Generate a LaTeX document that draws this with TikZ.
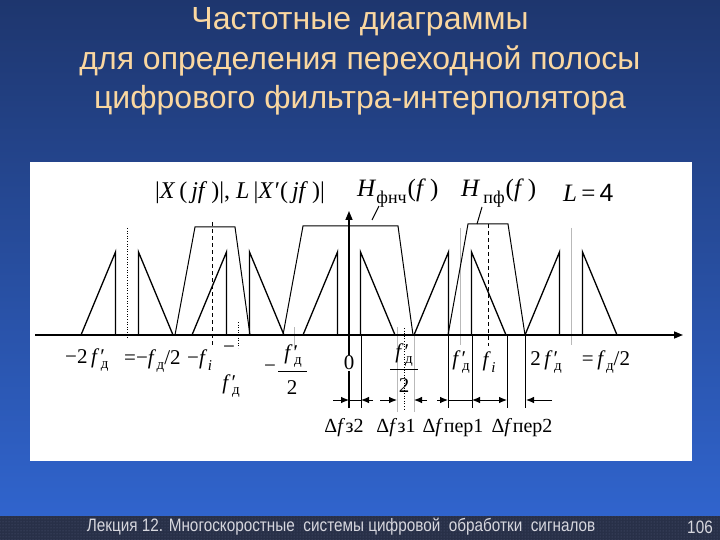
\documentclass[tikz,border=0pt]{standalone}
\usepackage{fontspec}
\setmainfont{Liberation Serif}
\newfontfamily\titlefont{Liberation Sans}
\newfontfamily\footfont[FakeStretch=0.85]{Liberation Sans}
\usetikzlibrary{arrows.meta,patterns}
\definecolor{bgtop}{RGB}{30,54,110}
\definecolor{bgbot}{RGB}{48,100,205}
\definecolor{titlec}{RGB}{250,215,160}
\definecolor{footbg}{RGB}{40,48,72}
\definecolor{footdot}{RGB}{80,90,120}
\definecolor{footc}{RGB}{215,215,222}
\definecolor{lgray}{RGB}{185,185,185}
\newcommand\sbx[1]{\raisebox{-0.28em}{\fontsize{15}{15}\selectfont #1}}
\newcommand\sbt[1]{\raisebox{-0.3em}{\fontsize{18}{18}\selectfont #1}}
\newcommand\fdp{\textit{f}\kern1pt\rlap{′}\kern0.5pt\sbx{д}}
\newcommand\fdd{\textit{f}\kern0.5pt\sbx{д}}
\newcommand\fii{\textit{f}\kern0.5pt\sbx{\textit{i}}}
\tikzset{
  title/.style={font=\titlefont\fontsize{32}{32}\selectfont, text=titlec, inner sep=0pt},
  lab/.style={font=\fontsize{21}{22}\selectfont, inner sep=0pt},
  tlab/.style={font=\fontsize{25}{26}\selectfont, inner sep=0pt},
  dlab/.style={font=\fontsize{20}{21}\selectfont, inner sep=0pt},
  spec/.style={line width=1.3pt, line join=miter},
  filt/.style={line width=1pt},
  axisl/.style={line width=1.5pt, -{Triangle[length=9pt,width=7pt]}},
  grayl/.style={draw=lgray, line width=0.9pt},
  dotl/.style={line width=0.8pt, dash pattern=on 1pt off 1.6pt},
  dashl/.style={line width=1pt, dash pattern=on 4pt off 3pt},
  thinl/.style={line width=0.8pt},
  arr/.style={line width=0.9pt, -{Latex[length=8pt,width=6.5pt]}}
}
\begin{document}
\begin{tikzpicture}[x=1pt,y=-1pt]
\useasboundingbox (0,0) rectangle (720,540);
% background
\shade[top color=bgtop, bottom color=bgbot] (0,0) rectangle (720,516);
\fill[footbg] (0,516) rectangle (720,540);
\fill[pattern=dots, pattern color=footdot] (0,516) rectangle (720,540);
\fill[white] (30,162) rectangle (692,461);
% title
\node[title] (t1) at (360,22) {Частотные диаграммы};
\node[title] (t2) at (360,61) {для определения переходной полосы};
\node[title] (t3) at (360,100) {цифрового фильтра-интерполятора};
% footer
\node[font=\footfont\fontsize{18}{18}\selectfont, text=footc, inner sep=0pt] (ft) at (341,527) {Лекция 12. Многоскоростные \ системы цифровой \ обработки \ сигналов};
\node[font=\footfont\fontsize{18}{18}\selectfont, text=footc, inner sep=0pt] (pg) at (700,527) {106};

% marker lines
\draw[dotl] (127,228) -- (127,338);
\draw[dotl] (238,322) -- (238,348);
\draw[dotl] (404,328) -- (404,410);
\draw[dashl] (212,222) -- (212,346);
\draw[dashl] (488,224) -- (488,346);
\draw[grayl] (294,327) -- (294,348);
\draw[grayl] (397,327) -- (397,412);
\draw[grayl] (414,335) -- (414,412);
\draw[grayl] (460,228) -- (460,345);
\draw[grayl] (571,228) -- (571,345);
\draw[thinl] (361,335) -- (361,408);
\draw[thinl] (448,335) -- (448,408);
\draw[thinl] (472,335) -- (472,408);
\draw[thinl] (507,335) -- (507,408);
\draw[thinl] (525,335) -- (525,408);

% spectra
\foreach \c in {127,238,349,460,571}{
  \draw[spec] (\c-46,335) -- (\c-11.5,252) -- (\c-11.5,335);
  \draw[spec] (\c+11.5,335) -- (\c+11.5,252) -- (\c+46,335);
}
% filters
\draw[filt] (283,335) -- (303,226) -- (398,226) -- (413,335);
\draw[filt] (175,335) -- (195,227) -- (235,227) -- (250,335);
\draw[filt] (448,335) -- (468,224) -- (508,224) -- (525,335);
\draw[filt] (379,206) -- (372,220);
\draw[filt] (482,207) -- (477,224);

% axes
\coordinate (xl) at (35,335);
\coordinate (xr) at (683,335);
\draw[axisl] (xl) -- (xr);
\coordinate (yb) at (349,408);
\coordinate (yt) at (349,211);
\draw[axisl] (yb) -- (yt);

% top labels
\node[tlab, font=\fontsize{24}{25}\selectfont] (lx) at (240,193) {|\textit{X}\,(\,\textit{jf}\,)|, \textit{L}\,|\textit{X}\kern1pt′(\,\textit{jf}\,)|};
\node[tlab, anchor=west] (lh1) at (357,193) {\textit{H}\sbt{фнч}\kern1pt(\textit{f}\,)};
\node[tlab, anchor=west] (lh2) at (461,193) {\textit{H}\sbt{\,пф}\kern1pt(\textit{f}\,)};
\node[tlab, anchor=west] (ll) at (563,193) {\textit{L}\,=\,{\titlefont 4}};

% axis labels
\node[lab, anchor=west] (m2fd) at (65,360) {−2\,\fdp};
\node[lab, anchor=west] (mfd2) at (124,361) {=−\fdd/2};
\node[lab, anchor=west] (mfi) at (187,360) {−\fii};
\node[lab] (mfdm) at (229,350) {−};
\node[lab] (mfdb) at (231,386) {\fdp};
\node[lab] (mh) at (270,369) {−};
\node[lab] (nh1) at (293,356) {\fdp};
\node[lab] (dh1) at (292,388) {2};
\coordinate (b1l) at (278,371);
\coordinate (b1r) at (307,371);
\draw[thinl] (b1l) -- (b1r);
\node[lab, fill=white, inner sep=1pt] (zero) at (349,363) {0};
\node[lab] (nh2) at (404,355) {\fdp};
\node[lab] (dh2) at (404,386) {2};
\coordinate (b2l) at (390,369);
\coordinate (b2r) at (418,369);
\draw[thinl] (b2l) -- (b2r);
\node[lab] (pfd) at (461,362) {\fdp};
\node[lab] (pfi) at (489,362) {\fii};
\node[lab] (p2fd) at (546,362) {2\,\fdp};
\node[lab] (pfd2) at (606,362) {=\,\fdd/2};

% delta arrows
\coordinate (a1) at (333,400); \coordinate (a2) at (349,400);
\coordinate (a3) at (361,400); \coordinate (a4) at (373,400);
\draw[arr] (a1) -- (a2);
\draw[thinl] (a2) -- (a3);
\draw[arr] (a4) -- (a3);
\coordinate (b1) at (380,400); \coordinate (b2) at (397,400);
\coordinate (b3) at (414,400); \coordinate (b4) at (427,400);
\draw[arr] (b1) -- (b2);
\draw[arr] (b4) -- (b3);
\coordinate (c1) at (437,400); \coordinate (c2) at (448,400);
\coordinate (c3) at (472,400); \coordinate (c4) at (489,400);
\coordinate (c5) at (507,400); \coordinate (c6) at (526,400);
\coordinate (c7) at (552,400);
\draw[arr] (c1) -- (c2);
\draw[thinl] (c2) -- (c3);
\draw[arr] (c4) -- (c3);
\draw[arr] (c4) -- (c5);
\draw[arr] (c7) -- (c6);

% delta labels
\node[dlab] (dz2) at (344,428) {Δ\textit{f}\kern0.5ptз2};
\node[dlab] (dz1) at (396,428) {Δ\textit{f}\kern0.5ptз1};
\node[dlab] (dp1) at (453,428) {Δ\textit{f}\kern0.5ptпер1};
\node[dlab] (dp2) at (522,428) {Δ\textit{f}\kern0.5ptпер2};
\end{tikzpicture}
\end{document}
